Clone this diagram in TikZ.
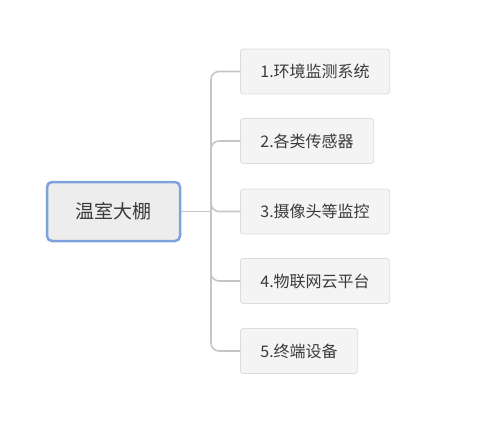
\documentclass[tikz,border=0pt]{standalone}
\usepackage{fontspec}
\setmainfont{Noto Sans CJK SC}
\usetikzlibrary{positioning}
\definecolor{linegray}{HTML}{C6C6C6}
\definecolor{rootblue}{HTML}{7DA2DC}
\definecolor{rootfill}{HTML}{EDEDED}
\definecolor{leaffill}{HTML}{F4F4F4}
\definecolor{leafline}{HTML}{DCDCDC}
\definecolor{textgray}{HTML}{3A3A3A}
\begin{document}
\begin{tikzpicture}[x=1pt,y=-1pt,
  root/.style={draw=rootblue, line width=2.5pt, fill=rootfill, rounded corners=5pt, minimum width=133pt, minimum height=59pt, font=\fontsize{19}{22}\selectfont, text=textgray},
  leaf/.style={draw=leafline, line width=0.8pt, fill=leaffill, rounded corners=3pt, anchor=west, minimum height=45pt, inner xsep=20pt, font=\fontsize{16}{19}\selectfont, text=textgray},
  branch/.style={draw=linegray, line width=1.6pt, rounded corners=8pt}]
\useasboundingbox (0,0) rectangle (498,426);
% Root
\node[root] (root) at (113.5,211.5) {温室大棚};
% Leaves
\node[leaf] (l1) at (240,71.5) {1.环境监测系统};
\node[leaf] (l2) at (240,141) {2.各类传感器};
\node[leaf] (l3) at (240,211.5) {3.摄像头等监控};
\node[leaf] (l4) at (240,281) {4.物联网云平台};
\node[leaf] (l5) at (240,351) {5.终端设备};
% Connectors
\coordinate (fork) at (211,211.5);
\draw[branch] (root) -- (fork);
\foreach \n in {1,...,5}
  {\draw[branch] (fork) |- (l\n.west);}
\end{tikzpicture}
\end{document}
